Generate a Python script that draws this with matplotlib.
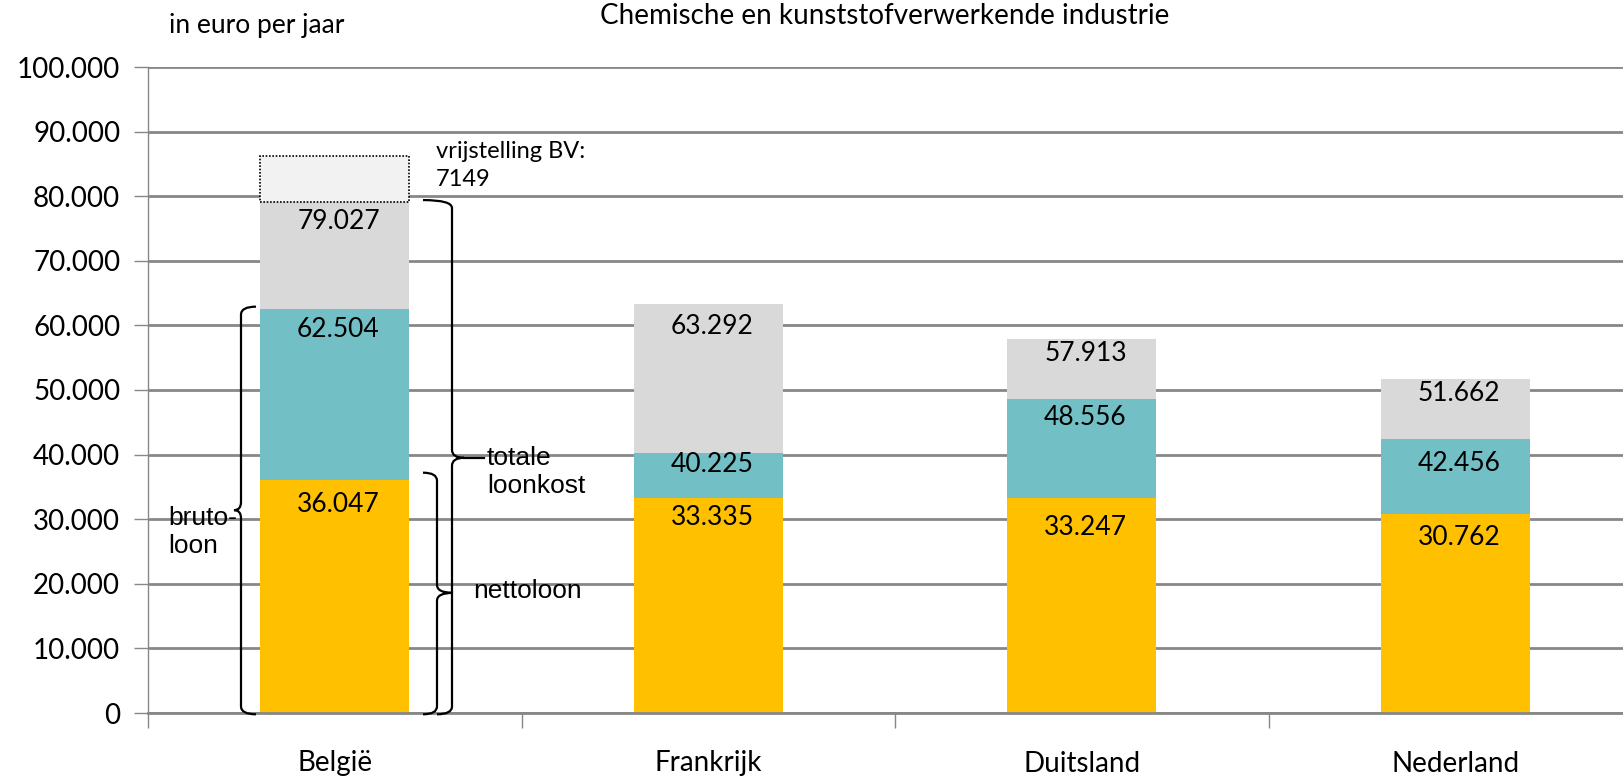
import matplotlib

matplotlib.use("Agg")
import matplotlib.pyplot as plt
from matplotlib.patches import PathPatch, Rectangle
from matplotlib.path import Path

# data (euro per year)
countries = ["België", "Frankrijk", "Duitsland", "Nederland"]
nettoloon = [36047, 33335, 33247, 30762]
brutoloon = [62504, 40225, 48556, 42456]
loonkost = [79027, 63292, 57913, 51662]
vrijstelling_bv = 7149

# how far below the top of each segment the value label sits (euro)
drop_netto = [3800, 3100, 4600, 3600]
drop_bruto = [3100, 1800, 2800, 3900]
drop_kost = [3000, 3500, 2200, 2200]

YELLOW = "#FFC000"
TEAL = "#72BFC5"
GREY = "#D9D9D9"
LIGHT = "#F2F2F2"
GRID = "#878787"
NUM_FONT = "Lato"
ARIAL = "Liberation Sans"

W, H = 1623, 777
fig = plt.figure(figsize=(W / 100, H / 100), dpi=100)
# axes runs past the right edge, like the original crop
ax = fig.add_axes([148 / W, 1 - 713 / H, 1494 / W, (713 - 67) / H])

x = [i + 0.5 for i in range(len(countries))]
bw = 0.40
bruto_part = [b - n for b, n in zip(brutoloon, nettoloon)]
kost_part = [k - b for k, b in zip(loonkost, brutoloon)]
ax.bar(x, nettoloon, bw, color=YELLOW, zorder=2)
ax.bar(x, bruto_part, bw, bottom=nettoloon, color=TEAL, zorder=2)
ax.bar(x, kost_part, bw, bottom=brutoloon, color=GREY, zorder=2)

# exemption BV on top of Belgium, dotted outline
ax.add_patch(Rectangle((x[0] - bw / 2, loonkost[0]), bw, vrijstelling_bv,
                       facecolor=LIGHT, edgecolor="black", linestyle=(0, (1, 1)),
                       linewidth=1.2, zorder=3))

for i in range(len(countries)):
    for top, drop in ((nettoloon[i], drop_netto[i]), (brutoloon[i], drop_bruto[i]),
                      (loonkost[i], drop_kost[i])):
        ax.text(x[i] + 0.01, top - drop, f"{top:,}".replace(",", "."), ha="center",
                va="center", fontsize=19, family=NUM_FONT, color="black", zorder=4)

ax.set_xlim(0, 4)
ax.set_ylim(0, 100000)
ax.set_yticks(range(0, 100001, 10000))
ax.set_yticklabels([f"{v:,}".replace(",", ".") for v in range(0, 100001, 10000)],
                   family=NUM_FONT, fontsize=20)
ax.yaxis.grid(True, color=GRID, linewidth=2, zorder=0)
ax.set_axisbelow(True)
ax.tick_params(axis="y", length=10, width=1, color=GRID, pad=10)

ax.set_xticks([0, 1, 2, 3, 4])
ax.set_xticklabels([])
ax.tick_params(axis="x", which="major", length=11, width=1, color=GRID)
ax.set_xticks(x, minor=True)
ax.set_xticklabels(countries, minor=True, family=NUM_FONT, fontsize=20)
ax.tick_params(axis="x", which="minor", length=0, pad=27)

for side in ("top", "right"):
    ax.spines[side].set_visible(False)
ax.spines["left"].set_color(GRID)
ax.spines["left"].set_linewidth(1)
ax.spines["bottom"].set_color(GRID)
ax.spines["bottom"].set_linewidth(2)

# braces, built in pixel units then mapped into data space
PX = 1 / 373.5          # one pixel in x data units
PY = 100000 / 646       # one pixel in y data units


def brace(x_spine, y_bot, y_top, x_end_top, x_end_bot, x_tip, y_tip, r=8):
    xs, xt = x_spine * PX, x_tip * PX
    verts = [
        (x_end_top * PX, y_top), (xs, y_top), (xs, y_top - r * PY),
        (xs, y_tip + r * PY),
        (xs, y_tip), (xt, y_tip),
        (xs, y_tip), (xs, y_tip - r * PY),
        (xs, y_bot + r * PY),
        (xs, y_bot), (x_end_bot * PX, y_bot),
    ]
    codes = [Path.MOVETO, Path.CURVE3, Path.CURVE3, Path.LINETO,
             Path.CURVE3, Path.CURVE3, Path.CURVE3, Path.CURVE3,
             Path.LINETO, Path.CURVE3, Path.CURVE3]
    ax.add_patch(PathPatch(Path(verts, codes), facecolor="none", edgecolor="black",
                           linewidth=1.6, clip_on=False, zorder=5))


# bruto-loon (opens to the bar, tip to the left)
brace(93, -200, 62900, 108, 108, 86, 31400)
# nettoloon
brace(289, -200, 37200, 275, 275, 305, 18600)
# totale loonkost
brace(304, -200, 79400, 275, 289, 316, 39500)
ax.plot([316 * PX, 336 * PX], [39500, 39500], color="black", linewidth=1.6,
        clip_on=False, zorder=5)

ax.text(339 * PX, 37300, "totale\nloonkost", ha="left", va="center", fontsize=19,
        family=ARIAL, linespacing=1.25)
ax.text(20 * PX, 28000, "bruto-\nloon", ha="left", va="center", fontsize=19,
        family=ARIAL, linespacing=1.25)
ax.text(325 * PX, 18900, "nettoloon", ha="left", va="center", fontsize=19,
        family=ARIAL)
ax.text(288 * PX, 84800, "vrijstelling BV:\n7149", ha="left", va="center", fontsize=17,
        family=NUM_FONT, linespacing=1.4)

fig.text(169 / W, 1 - 25 / H, "in euro per jaar", ha="left", va="center",
         fontsize=19, family=NUM_FONT)
fig.text(885 / W, 1 - 24 / H, "Chemische en kunststofverwerkende industrie",
         ha="center", va="baseline", fontsize=20, family=NUM_FONT)

fig.savefig("out.png", dpi=100)
